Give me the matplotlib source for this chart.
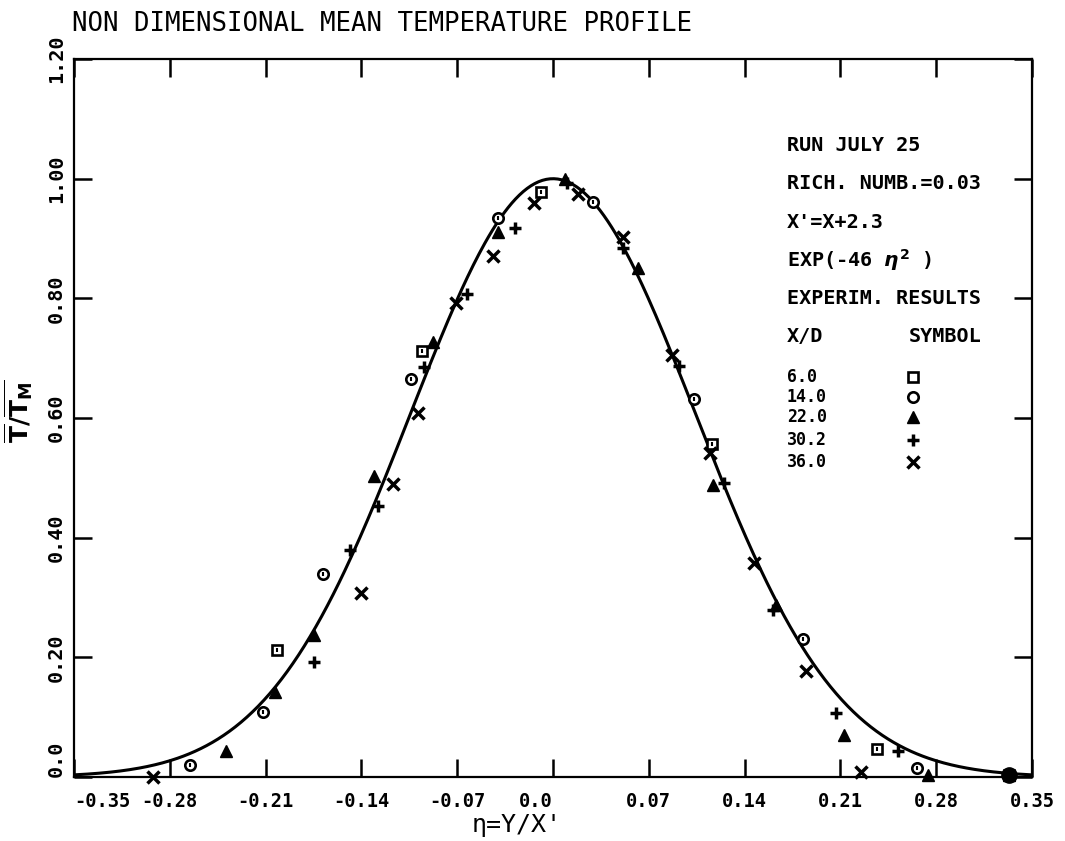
import numpy as np
import matplotlib
matplotlib.use("Agg")
import matplotlib.pyplot as plt

plt.rcParams['font.family'] = ['DejaVu Sans Mono', 'DejaVu Sans']
plt.rcParams['font.weight'] = 'bold'
plt.rcParams['mathtext.fontset'] = 'dejavusans'
plt.rcParams['mathtext.default'] = 'bf'

# Dati: eta = Y/X', T/Tm
sq_eta = [-0.202, -0.096, -0.009, 0.116, 0.237, 0.333]      # X/D = 6.0
sq_t = [0.212, 0.712, 0.978, 0.556, 0.047, 0.003]

ci_eta = [-0.265, -0.212, -0.168, -0.104, -0.040, 0.029, 0.103, 0.183, 0.266, 0.333]   # 14.0
ci_t = [0.020, 0.109, 0.339, 0.665, 0.934, 0.961, 0.632, 0.231, 0.015, 0.003]

tr_eta = [-0.239, -0.203, -0.175, -0.131, -0.088, -0.040, 0.009, 0.062, 0.117, 0.163,
          0.213, 0.274, 0.333]   # 22.0
tr_t = [0.043, 0.142, 0.237, 0.503, 0.727, 0.911, 0.999, 0.851, 0.488, 0.287,
        0.070, 0.003, 0.003]

pl_eta = [-0.175, -0.148, -0.128, -0.094, -0.063, -0.028, 0.010, 0.051, 0.092, 0.125,
          0.161, 0.207, 0.252]   # 30.2
pl_t = [0.192, 0.379, 0.453, 0.685, 0.807, 0.917, 0.993, 0.884, 0.687, 0.491,
        0.279, 0.107, 0.043]

xx_eta = [-0.292, -0.140, -0.117, -0.099, -0.071, -0.044, -0.014, 0.018, 0.051, 0.087,
          0.115, 0.147, 0.185, 0.225]   # 36.0
xx_t = [0.0, 0.307, 0.490, 0.608, 0.792, 0.871, 0.959, 0.974, 0.902, 0.705,
        0.541, 0.358, 0.177, 0.008]

# punti sovrapposti sull'asse (macchia nera nel plotter)
blob_eta = [0.333]
blob_t = [0.003]

coef = 46  # EXP(-46 eta^2)

xticks = [-0.35, -0.28, -0.21, -0.14, -0.07, 0.0, 0.07, 0.14, 0.21, 0.28, 0.35]
xlabels = ['-0.35', '-0.28', '-0.21', '-0.14', '-0.07', '0.0', '0.07', '0.14', '0.21', '0.28', '0.35']
yticks = [0.0, 0.2, 0.4, 0.6, 0.8, 1.0, 1.2]
ylabels = ['0.0', '0.20', '0.40', '0.60', '0.80', '1.00', '1.20']

legend_xd = ['6.0', '14.0', '22.0', '30.2', '36.0']

#%% Figura

fig = plt.figure(figsize=(10.65, 8.41), dpi=100)
ax = fig.add_axes([0.0695, 0.0761, 0.8995, 0.8537])

eta_fit = np.linspace(-0.35, 0.35, 500)
ax.plot(eta_fit, np.exp(-coef * eta_fit**2), color='black', lw=2.2, zorder=2)

styles = [dict(marker='s', ms=7, mfc='white', mew=1.9),
          dict(marker='o', ms=7.5, mfc='white', mew=1.9),
          dict(marker='^', ms=8.5),
          dict(marker='+', ms=9, mew=2.5),
          dict(marker='x', ms=8, mew=2.5)]
series = [(sq_eta, sq_t), (ci_eta, ci_t), (tr_eta, tr_t), (pl_eta, pl_t), (xx_eta, xx_t)]

for (e, t), st in zip(series, styles):
    ax.plot(e, t, color='black', linestyle='none', clip_on=False, zorder=3, **st)
    # piccolo segno interno dei simboli aperti, come nel plotter
    if st.get('mfc') == 'white':
        ax.plot(e, t, color='black', linestyle='none', marker='|', ms=3, mew=1.5,
                clip_on=False, zorder=4)

ax.plot(blob_eta, blob_t, color='black', linestyle='none', marker='o', ms=11,
        clip_on=False, zorder=5)

ax.set_xlim(-0.35, 0.35)
ax.set_ylim(0, 1.2)
ax.set_xticks(xticks)
ax.set_xticklabels(xlabels, fontsize=13.5)
ax.set_yticks(yticks)
ax.set_yticklabels(ylabels, fontsize=14.5, rotation=90, va='center')
ax.tick_params(direction='in', length=13, width=1.8, top=True, right=True)
ax.tick_params(axis='x', pad=11)
ax.tick_params(axis='y', pad=6)
for s in ax.spines.values():
    s.set_linewidth(1.6)

# allineamenti come nel plotter
ax.get_xticklabels()[0].set_ha('left')
ax.get_xticklabels()[5].set_ha('right')
ax.get_yticklabels()[0].set_va('bottom')

ax.set_xlabel("\u03b7=Y/X'", fontsize=18)
ax.xaxis.set_label_coords(0.462, -0.05)
ax.set_ylabel(r'$\overline{\mathrm{T}}/\overline{\mathrm{T}_{\mathrm{M}}}$', fontsize=18)
ax.yaxis.set_label_coords(-0.04, 0.51)

fig.text(0.068, 0.971, 'NON DIMENSIONAL MEAN TEMPERATURE PROFILE', fontsize=18.5,
         fontweight='normal', ha='left', va='center')

# blocco di legenda
tx = 0.744
ax.text(tx, 0.880, 'RUN JULY 25', transform=ax.transAxes, fontsize=14.5, va='center')
ax.text(tx, 0.827, 'RICH. NUMB.=0.03', transform=ax.transAxes, fontsize=14.5, va='center')
ax.text(tx, 0.773, "X'=X+2.3", transform=ax.transAxes, fontsize=14.5, va='center')
ax.text(tx, 0.720, r'EXP(-46 $\mathit{\eta}^{2}$ )', transform=ax.transAxes, fontsize=14.5,
        va='center')
ax.text(tx, 0.667, 'EXPERIM. RESULTS', transform=ax.transAxes, fontsize=14.5, va='center')
ax.text(tx, 0.613, 'X/D', transform=ax.transAxes, fontsize=14.5, va='center')
ax.text(0.871, 0.613, 'SYMBOL', transform=ax.transAxes, fontsize=14.5, va='center')

rows = [0.557, 0.529, 0.501, 0.469, 0.439]
for r, lab, st in zip(rows, legend_xd, styles):
    ax.text(tx, r, lab, transform=ax.transAxes, fontsize=12, va='center')
    ax.plot([0.876], [r], transform=ax.transAxes, color='black', linestyle='none', **st)

fig.savefig('out.png', dpi=100)
